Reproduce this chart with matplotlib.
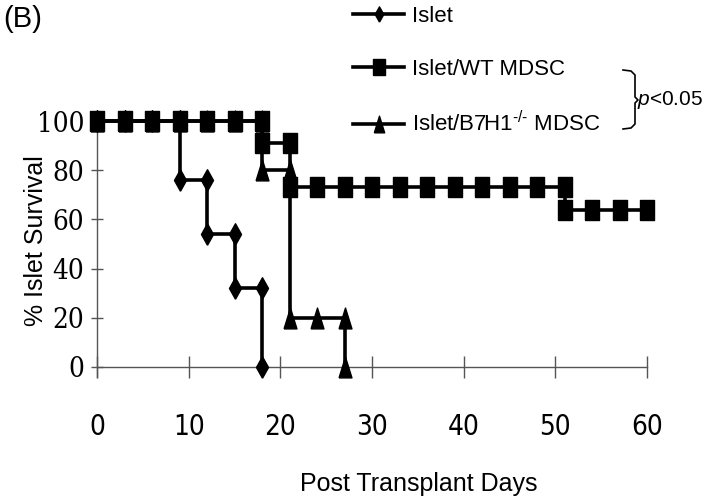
import matplotlib
matplotlib.use('Agg')
import matplotlib.pyplot as plt
from matplotlib import font_manager as fm
from matplotlib.lines import Line2D
from matplotlib.path import Path

# Survival curves (days, % islet survival) - marker points along the step curves
islet_days = [0, 3, 6, 9, 9, 12, 12, 15, 15, 18, 18]
islet_surv = [100, 100, 100, 100, 76, 76, 54, 54, 32, 32, 0]

wt_days = [0, 3, 6, 9, 12, 15, 18, 18, 21, 21, 24, 27, 30, 33, 36, 39, 42, 45, 48, 51, 51, 54, 57, 60]
wt_surv = [100, 100, 100, 100, 100, 100, 100, 91, 91, 73, 73, 73, 73, 73, 73, 73, 73, 73, 73, 73, 64, 64, 64, 64]

b7_days = [0, 3, 6, 9, 12, 15, 18, 18, 21, 21, 24, 27, 27]
b7_surv = [100, 100, 100, 100, 100, 100, 100, 80, 80, 20, 20, 20, 0]

labels = ['Islet', 'Islet/WT MDSC', r'Islet/B7H1$^{\text{-/-}}$ MDSC']
x_ticks = [0, 10, 20, 30, 40, 50, 60]
y_ticks = [0, 20, 40, 60, 80, 100]

plt.rcParams['font.family'] = ['Liberation Sans', 'DejaVu Sans']
plt.rcParams['mathtext.fontset'] = 'custom'
plt.rcParams['mathtext.rm'] = 'Liberation Sans'
plt.rcParams['mathtext.it'] = 'Liberation Sans:italic'


def pick_font(keys):
    # look for a narrow / condensed face
    for key in keys:
        for f in fm.fontManager.ttflist:
            if f.fname.split('/')[-1] == key:
                return fm.FontProperties(fname=f.fname)
    return None


narrow_sans = pick_font(['LiberationSansNarrow-Regular.ttf', 'DejaVuSansCondensed.ttf'])
narrow_serif = pick_font(['DejaVuSerifCondensed.ttf', 'LiberationSerif-Regular.ttf'])

# tall, narrow markers like the original
square = Path([(-0.33, -0.5), (0.33, -0.5), (0.33, 0.5), (-0.33, 0.5), (-0.33, -0.5)])
diamond = Path([(0, -0.5), (0.28, 0), (0, 0.5), (-0.28, 0), (0, -0.5)])
triangle = Path([(-0.31, -0.5), (0.31, -0.5), (0, 0.5), (-0.31, -0.5)])

fig = plt.figure(figsize=(7.06, 5.03), dpi=100)
ax = fig.add_axes([97 / 706, 0.2505, 550 / 706, 0.5089])

ax.plot(islet_days, islet_surv, color='black', lw=2.6, marker=diamond, ms=15.5, clip_on=False, zorder=3)
ax.plot(b7_days, b7_surv, color='black', lw=2.6, marker=triangle, ms=15, clip_on=False, zorder=3)
ax.plot(wt_days, wt_surv, color='black', lw=2.6, marker=square, ms=14.5, clip_on=False, zorder=4)

ax.set_xlim(0, 60)
ax.set_ylim(-4.1, 100)

for s in ['top', 'right']:
    ax.spines[s].set_visible(False)
ax.spines['bottom'].set_position(('data', 0))
for s in ['left', 'bottom']:
    ax.spines[s].set_color('#555555')
    ax.spines[s].set_linewidth(1)

ax.set_xticks(x_ticks)
ax.set_yticks(y_ticks)
ax.tick_params(axis='x', direction='inout', length=16, width=1, color='#555555', pad=25)
ax.tick_params(axis='y', direction='inout', length=8.5, width=1, color='#555555', pad=5)
ax.set_xticklabels([str(t) for t in x_ticks], fontproperties=narrow_sans)
ax.set_yticklabels([str(t) for t in y_ticks], fontproperties=narrow_serif)
for t in ax.get_xticklabels():
    t.set_fontsize(20)
for t in ax.get_yticklabels():
    t.set_fontsize(20)

fig.text(419 / 706, 1 - 484 / 503, 'Post Transplant Days', fontsize=18, ha='center', va='center')
fig.text(36 / 706, 1 - 241 / 503, '% Islet Survival', fontsize=18, rotation=90, ha='center', va='center')
fig.text(3 / 706, 1 - 19 / 503, '(B)', fontsize=21, ha='left', va='center')

# legend
handles = [
    Line2D([], [], color='black', lw=2.6, marker=diamond, ms=11),
    Line2D([], [], color='black', lw=2.6, marker=square, ms=12),
    Line2D([], [], color='black', lw=2.6, marker=triangle, ms=12),
]
ax.legend(handles, labels, loc='upper left', bbox_to_anchor=(353 / 706, 1 - 6 / 503),
          bbox_transform=fig.transFigure, frameon=False, fontsize=16,
          handlelength=2.3, handletextpad=0.35, labelspacing=1.42, borderpad=0, borderaxespad=0)

# bracket and p value
bx = [623, 631, 635, 635, 638, 635, 635, 631, 623]
by = [70, 71, 75, 97, 100, 103, 124, 128, 129]
fig.add_artist(Line2D([x / 706 for x in bx], [1 - y / 503 for y in by], color='black', lw=1.2,
                      transform=fig.transFigure))
fig.text(637 / 706, 1 - 100 / 503, r'$\it{p}$<0.05', fontsize=15, ha='left', va='center')

plt.savefig('out.png', dpi=100)
